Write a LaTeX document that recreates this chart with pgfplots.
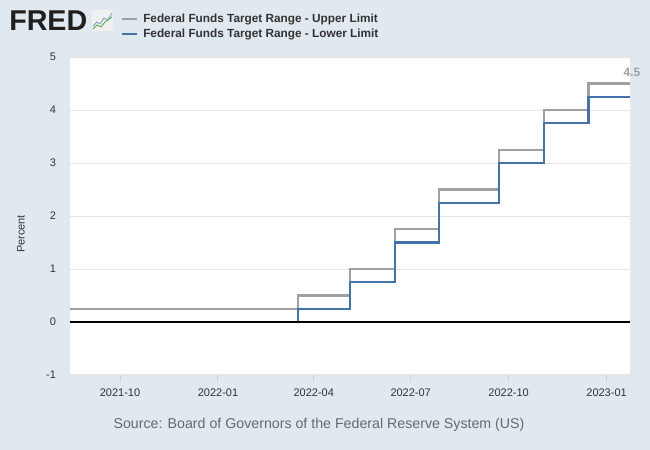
\documentclass[border=0pt]{standalone}
\usepackage{pgfplots}
\pgfplotsset{compat=1.18}
\usepackage{fontspec}
\setmainfont{Liberation Sans}
\definecolor{bgc}{HTML}{E1E9F0}
\definecolor{upperc}{HTML}{A0A0A0}
\definecolor{lowerc}{HTML}{4572A7}
\definecolor{gridc}{HTML}{E6E6E6}
\definecolor{tickc}{HTML}{C6D2DE}
\definecolor{txtc}{HTML}{333333}
\definecolor{srcc}{HTML}{5F6B75}
\begin{document}
\begin{tikzpicture}[x=0.75pt,y=0.75pt]
\fill[bgc] (0,0) rectangle (650,450);
\useasboundingbox (0,0) rectangle (650,450);
% logo
\node[anchor=west,inner sep=0pt,font=\fontsize{21.5pt}{21.5pt}\selectfont\bfseries,text=black!88] at (9,429) {FRED};
\begin{scope}
\fill[white!88!gray,rounded corners=1pt] (92,419) rectangle (113,440);
\draw[lowerc!70,line width=0.6pt] (93,424) -- (97,428) -- (100,426) -- (104,432) -- (108,430) -- (112,437);
\draw[green!50!black!70,line width=0.6pt] (93,421) -- (97,425) -- (101,423) -- (105,428) -- (112,433);
\end{scope}
% legend
\draw[upperc,line width=1.5pt] (122,431) -- (137,431);
\draw[lowerc,line width=1.5pt] (122,416) -- (137,416);
\node[anchor=west,inner sep=0pt,text=txtc,font=\fontsize{8.85pt}{8.85pt}\selectfont\bfseries] at (143,431) {Federal Funds Target Range - Upper Limit};
\node[anchor=west,inner sep=0pt,text=txtc,font=\fontsize{8.85pt}{8.85pt}\selectfont\bfseries] at (143,416) {Federal Funds Target Range - Lower Limit};
% source
\node[text=srcc,font=\fontsize{10.65pt}{10.65pt}\selectfont] at (319,25) {Source: Board of Governors of the Federal Reserve System (US)};
% y label
\node[rotate=90,text=txtc,font=\fontsize{8.25pt}{8.25pt}\selectfont] at (21,216) {Percent};
\begin{axis}[
  at={(52.5pt,56.25pt)}, anchor=south west,
  scale only axis, width=420pt, height=238.5pt,
  xmin=-47, xmax=479, ymin=-1, ymax=5,
  xtick={0,92,182,273,365,457},
  xticklabels={2021-10,2022-01,2022-04,2022-07,2022-10,2023-01},
  ytick={-1,0,1,2,3,4,5},
  /pgf/number format/assume math mode=true,
  ticklabel style={font=\fontsize{8.25pt}{8.25pt}\selectfont, text=txtc},
  axis background/.style={fill=white},
  axis line style={draw=none},
  ymajorgrids, grid style={gridc, line width=0.75pt},
  xtick pos=bottom, tick align=outside,
  xtick style={tickc, line width=0.75pt},
  ytick style={draw=none},
  major tick length=5pt,
  yticklabel style={xshift=-2pt},
  xticklabel style={yshift=-2pt},
  clip=false,
]
\addplot[const plot, upperc, line width=1.6pt] coordinates {
(-47,0.25) (167,0.5) (216,1.0) (258,1.75) (300,2.5) (356,3.25) (398,4.0) (440,4.5) (479,4.5)};
\addplot[const plot, lowerc, line width=1.6pt] coordinates {
(-47,0) (167,0.25) (216,0.75) (258,1.5) (300,2.25) (356,3.0) (398,3.75) (440,4.25) (479,4.25)};
\addplot[black, line width=1.5pt] coordinates {(-47,0) (479,0)};
\node[anchor=south east, inner sep=0pt, text=upperc, font=\fontsize{9pt}{9pt}\selectfont\bfseries] at (axis cs:489,4.62) {4.5};
\end{axis}
\end{tikzpicture}
\end{document}
